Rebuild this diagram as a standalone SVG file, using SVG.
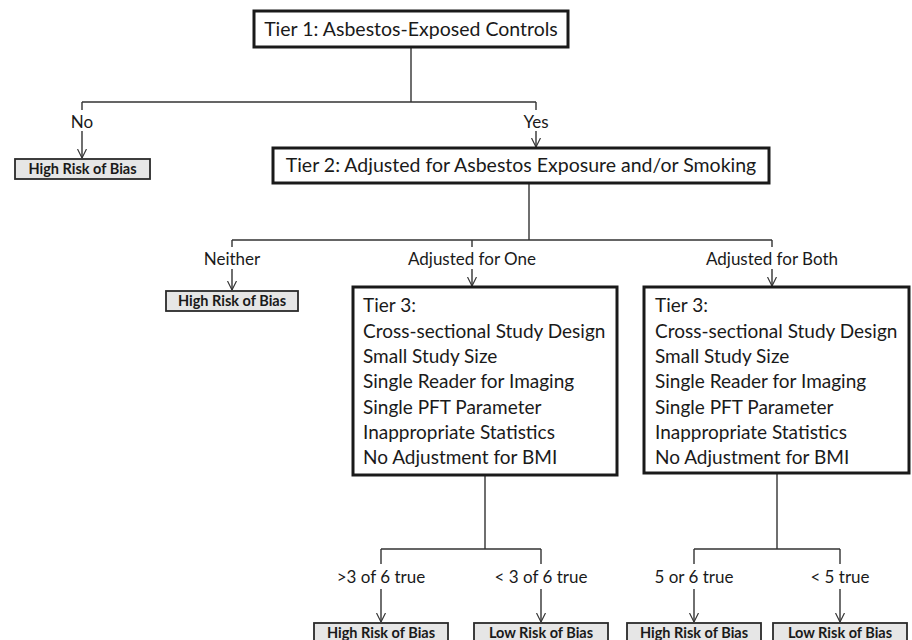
<svg xmlns="http://www.w3.org/2000/svg" width="912" height="640" viewBox="0 0 912 640">
<defs>
<marker id="arr" viewBox="0 0 10 10" markerWidth="9" markerHeight="10" refX="10" refY="5" orient="auto" markerUnits="userSpaceOnUse">
<path d="M0,0 L10,5 L0,10" fill="none" stroke="#333" stroke-width="1.3"/>
</marker>
<style>
.tier{fill:#fff;stroke:#1a1a1a;stroke-width:3}
.res{fill:#e6e6e6;stroke:#2a2a2a;stroke-width:1.8}
.tt{font-family:Lato,"Open Sans","Liberation Sans",sans-serif;font-size:19px;fill:#1a1a1a}
.big{font-size:19.5px}
.lb{font-family:Lato,"Open Sans","Liberation Sans",sans-serif;font-size:17px;fill:#1a1a1a;text-anchor:middle}
.rt{font-family:Lato,"Open Sans","Liberation Sans",sans-serif;font-size:14.5px;font-weight:bold;fill:#1a1a1a;text-anchor:middle}
.ln{fill:none;stroke:#333;stroke-width:1.4}
.ar{fill:none;stroke:#333;stroke-width:1.4;marker-end:url(#arr)}
</style>
</defs>
<rect width="912" height="640" fill="#fff"/>

<g id="connectors">
<path class="ln" d="M411,47 V102 M82,102 H536 M82,102 V110 M536,102 V110"/>
<path class="ar" d="M82,131 V158"/>
<path class="ar" d="M536,131 V147"/>
<path class="ln" d="M529,183 V240 M232,240 H772 M232,240 V247 M472,240 V247 M772,240 V247"/>
<path class="ar" d="M232,269 V290"/>
<path class="ar" d="M472,269 V286"/>
<path class="ar" d="M772,269 V286"/>
<path class="ln" d="M485,475 V549 M381,549 H541 M381,549 V564 M541,549 V564"/>
<path class="ln" d="M777,473 V549 M694,549 H840 M694,549 V564 M840,549 V564"/>
<path class="ar" d="M381,589 V622"/>
<path class="ar" d="M541,589 V622"/>
<path class="ar" d="M694,589 V622"/>
<path class="ar" d="M840,589 V622"/>
</g>

<g id="labels">
<text class="lb" x="82" y="128">No</text>
<text class="lb" x="536" y="128">Yes</text>
<text class="lb" x="232" y="265">Neither</text>
<text class="lb" x="472" y="265">Adjusted for One</text>
<text class="lb" x="772" y="265">Adjusted for Both</text>
<text class="lb" x="381" y="583">&gt;3 of 6 true</text>
<text class="lb" x="541" y="583">&lt; 3 of 6 true</text>
<text class="lb" x="694" y="583">5 or 6 true</text>
<text class="lb" x="840" y="583">&lt; 5 true</text>
</g>

<g id="tier1">
<rect class="tier" x="254" y="11" width="314" height="36"/>
<text class="tt big" x="411" y="36" text-anchor="middle">Tier 1: Asbestos-Exposed Controls</text>
</g>

<g id="high-risk-no">
<rect class="res" x="15" y="159" width="135" height="20"/>
<text class="rt" x="82.5" y="174">High Risk of Bias</text>
</g>

<g id="tier2">
<rect class="tier" x="273" y="148" width="496" height="35"/>
<text class="tt big" x="521" y="172" text-anchor="middle">Tier 2: Adjusted for Asbestos Exposure and/or Smoking</text>
</g>

<g id="high-risk-neither">
<rect class="res" x="166" y="291" width="132" height="20"/>
<text class="rt" x="232" y="306">High Risk of Bias</text>
</g>

<g id="tier3-one">
<rect class="tier" x="353" y="287" width="264" height="188"/>
<text class="tt" x="363" y="312">Tier 3:</text>
<text class="tt" x="363" y="337.5">Cross-sectional Study Design</text>
<text class="tt" x="363" y="363">Small Study Size</text>
<text class="tt" x="363" y="388">Single Reader for Imaging</text>
<text class="tt" x="363" y="413.5">Single PFT Parameter</text>
<text class="tt" x="363" y="439">Inappropriate Statistics</text>
<text class="tt" x="363" y="464">No Adjustment for BMI</text>
</g>

<g id="tier3-both">
<rect class="tier" x="644" y="287" width="265" height="186"/>
<text class="tt" x="655" y="312">Tier 3:</text>
<text class="tt" x="655" y="337.5">Cross-sectional Study Design</text>
<text class="tt" x="655" y="363">Small Study Size</text>
<text class="tt" x="655" y="388">Single Reader for Imaging</text>
<text class="tt" x="655" y="413.5">Single PFT Parameter</text>
<text class="tt" x="655" y="439">Inappropriate Statistics</text>
<text class="tt" x="655" y="464">No Adjustment for BMI</text>
</g>

<g id="high-risk-one">
<rect class="res" x="314" y="623" width="134" height="21"/>
<text class="rt" x="381" y="638">High Risk of Bias</text>
</g>
<g id="low-risk-one">
<rect class="res" x="474" y="623" width="134" height="21"/>
<text class="rt" x="541" y="638">Low Risk of Bias</text>
</g>
<g id="high-risk-both">
<rect class="res" x="627" y="623" width="134" height="21"/>
<text class="rt" x="694" y="638">High Risk of Bias</text>
</g>
<g id="low-risk-both">
<rect class="res" x="773" y="623" width="134" height="21"/>
<text class="rt" x="840" y="638">Low Risk of Bias</text>
</g>
</svg>
